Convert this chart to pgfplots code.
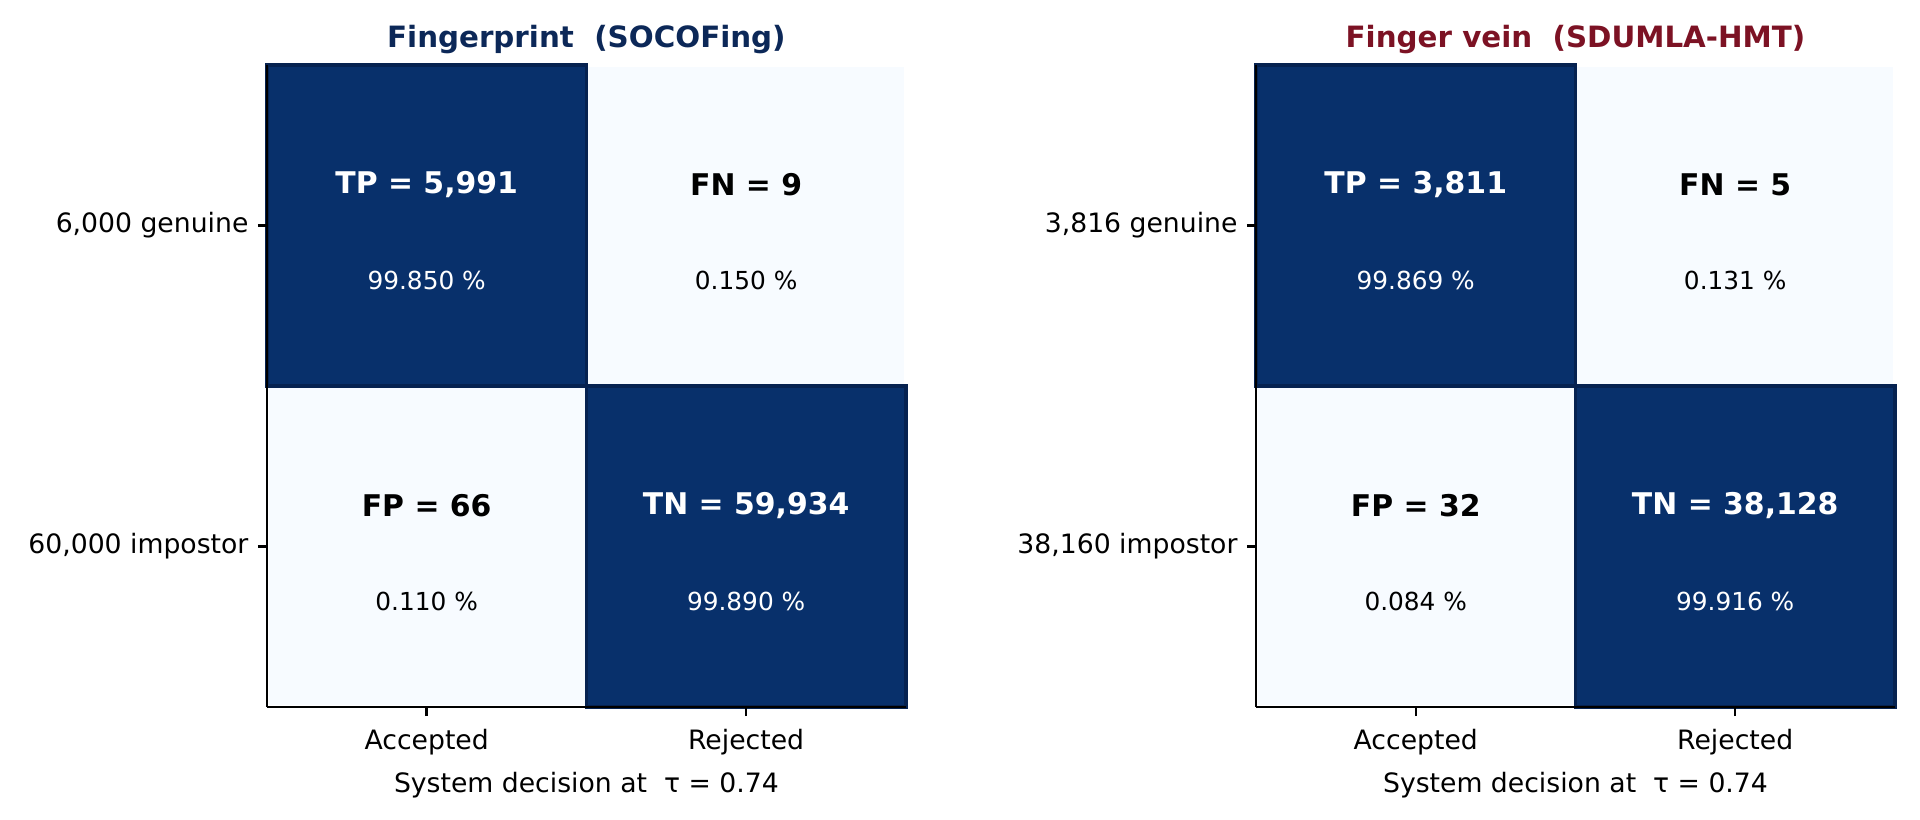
\documentclass[border=0pt]{standalone}
\usepackage{pgfplots}
\pgfplotsset{compat=1.18}
\usepackage{fontspec}
\setmainfont{DejaVu Sans}

\definecolor{cmdark}{RGB}{8,48,107}
\definecolor{cmlight}{RGB}{247,251,255}
\definecolor{celledge}{RGB}{6,34,80}
\definecolor{titleblue}{RGB}{12,40,88}
\definecolor{titlered}{RGB}{124,18,36}

\newcommand{\ticksize}{\fontsize{10}{12}\selectfont}
\newcommand{\pctsize}{\fontsize{9.3}{11}\selectfont}
\newcommand{\cntsize}{\fontsize{11.2}{13}\selectfont\bfseries}

\pgfplotsset{
  cmstyle/.style={
    scale only axis,
    width=239.6pt, height=240.75pt,
    anchor=south west,
    xmin=-0.5, xmax=1.5, ymin=-0.5, ymax=1.5,
    axis x line*=bottom, axis y line*=left,
    axis line style={black, line width=0.9pt},
    tick align=outside, major tick length=3.4pt,
    tick style={black, line width=0.9pt},
    xtick={0,1}, ytick={0,1},
    xticklabels={Accepted,Rejected},
    ticklabel style={font=\ticksize},
    xticklabel style={yshift=-1.5pt},
    label style={font=\ticksize},
    xlabel={System decision at\ \ τ = 0.74},
    xlabel style={yshift=0.5pt},
    title style={font=\fontsize{11}{13}\selectfont\bfseries, yshift=-5.5pt},
    colormap={blues}{rgb255=(247,251,255) rgb255=(8,48,107)},
    point meta min=0, point meta max=100,
    clip=false, axis on top,
  },
  cells/.style={matrix plot*, mesh/cols=2, mesh/rows=2, point meta=explicit,
    draw=white, line width=1.2pt},
}

% row-major: x, y, percent of row (y=1 genuine, y=0 impostor)
\pgfplotstableread{
x y pct
0 0 0.110
1 0 99.890
0 1 99.850
1 1 0.150
}\fpdata
\pgfplotstableread{
x y pct
0 0 0.084
1 0 99.916
0 1 99.869
1 1 0.131
}\fvdata

\begin{document}
\begin{tikzpicture}
\useasboundingbox (0,0) rectangle (720pt,307.125pt);

% Fingerprint
\begin{axis}[cmstyle, at={(100.1pt,42pt)},
    yticklabels={{60,000 impostor},{6,000 genuine}},
    title={\textcolor{titleblue}{Fingerprint\ \ (SOCOFing)}}]
  \addplot[cells] table[x=x, y=y, meta=pct] {\fpdata};
  \draw[celledge, line width=1.3pt] (axis cs:-0.5,0.5) rectangle (axis cs:0.5,1.5);
  \draw[celledge, line width=1.3pt] (axis cs:0.5,-0.5) rectangle (axis cs:1.5,0.5);
  \node[white, font=\cntsize] at (axis cs:0,1.128) {TP = 5,991};
  \node[white, font=\pctsize] at (axis cs:0,0.828) {99.850 \%};
  \node[black, font=\cntsize] at (axis cs:1,1.128) {FN = 9};
  \node[black, font=\pctsize] at (axis cs:1,0.828) {0.150 \%};
  \node[black, font=\cntsize] at (axis cs:0,0.128) {FP = 66};
  \node[black, font=\pctsize] at (axis cs:0,-0.172) {0.110 \%};
  \node[white, font=\cntsize] at (axis cs:1,0.128) {TN = 59,934};
  \node[white, font=\pctsize] at (axis cs:1,-0.172) {99.890 \%};
\end{axis}

% Finger vein
\begin{axis}[cmstyle, at={(471pt,42pt)},
    yticklabels={{38,160 impostor},{3,816 genuine}},
    title={\textcolor{titlered}{Finger vein\ \ (SDUMLA-HMT)}}]
  \addplot[cells] table[x=x, y=y, meta=pct] {\fvdata};
  \draw[celledge, line width=1.3pt] (axis cs:-0.5,0.5) rectangle (axis cs:0.5,1.5);
  \draw[celledge, line width=1.3pt] (axis cs:0.5,-0.5) rectangle (axis cs:1.5,0.5);
  \node[white, font=\cntsize] at (axis cs:0,1.128) {TP = 3,811};
  \node[white, font=\pctsize] at (axis cs:0,0.828) {99.869 \%};
  \node[black, font=\cntsize] at (axis cs:1,1.128) {FN = 5};
  \node[black, font=\pctsize] at (axis cs:1,0.828) {0.131 \%};
  \node[black, font=\cntsize] at (axis cs:0,0.128) {FP = 32};
  \node[black, font=\pctsize] at (axis cs:0,-0.172) {0.084 \%};
  \node[white, font=\cntsize] at (axis cs:1,0.128) {TN = 38,128};
  \node[white, font=\pctsize] at (axis cs:1,-0.172) {99.916 \%};
\end{axis}
\end{tikzpicture}
\end{document}
